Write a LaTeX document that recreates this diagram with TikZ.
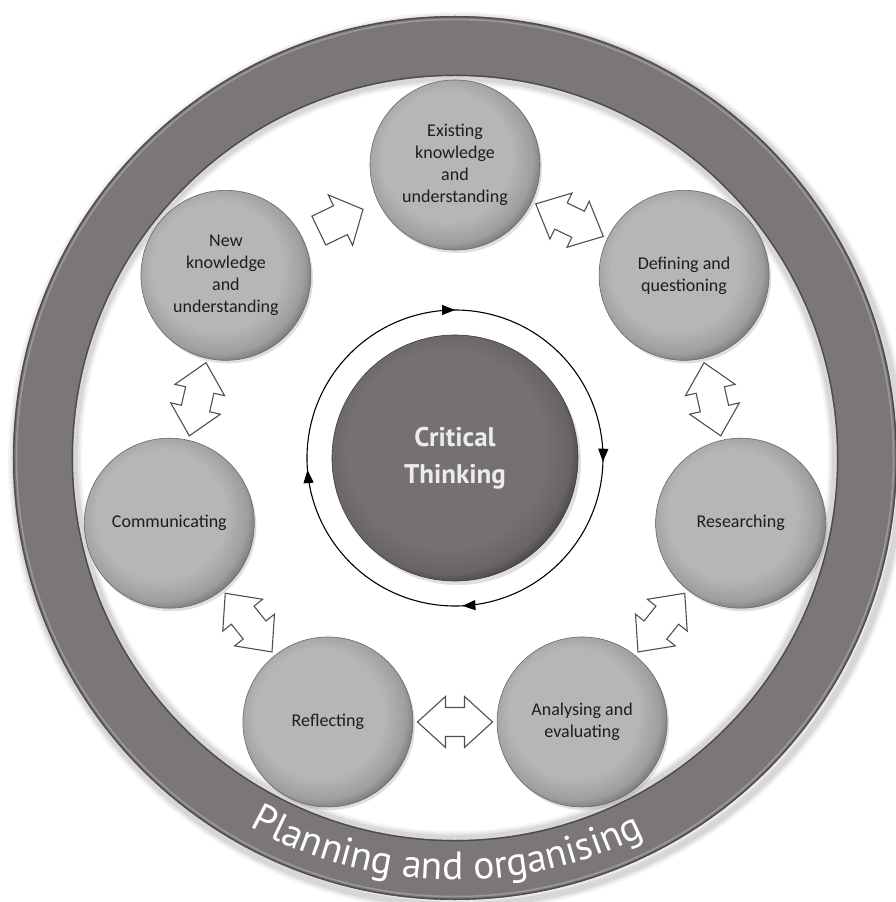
\documentclass[tikz,border=0pt]{standalone}
\usepackage{fontspec}
\setmainfont{Carlito}
\newfontfamily\gillfont{PT Sans}
\usetikzlibrary{decorations.text,decorations.markings,arrows.meta,calc,shadows}

\definecolor{satA}{RGB}{184,181,181}
\definecolor{satB}{RGB}{160,157,157}
\definecolor{satC}{RGB}{105,102,102}
\definecolor{ctA}{RGB}{118,113,113}
\definecolor{ctB}{RGB}{105,100,100}
\definecolor{ctC}{RGB}{62,58,58}
\definecolor{ringcol}{RGB}{124,119,119}
\definecolor{ringedge}{RGB}{80,76,76}
\definecolor{labelcol}{RGB}{30,28,28}
\definecolor{arrline}{RGB}{80,80,80}
\definecolor{cttext}{RGB}{236,236,236}

\pgfdeclareradialshading{satshade}{\pgfpoint{-4bp}{4bp}}{color(0bp)=(satA); color(19bp)=(satA); color(25bp)=(satB); color(29bp)=(satC); color(50bp)=(satC)}
\pgfdeclareradialshading{ctshade}{\pgfpoint{-3bp}{3bp}}{color(0bp)=(ctA); color(20bp)=(ctA); color(25bp)=(ctB); color(28bp)=(ctC); color(50bp)=(ctC)}

\tikzset{
  sat/.style={circle, minimum size=170pt, inner sep=0pt, shading=satshade, draw=satC, line width=0.6pt,
    drop shadow={shadow xshift=2pt, shadow yshift=-3pt, opacity=0.25},
    font=\fontsize{18}{22}\selectfont, text=labelcol, align=center},
  ctnode/.style={circle, minimum size=246pt, inner sep=0pt, shading=ctshade, draw=ctC, line width=0.6pt,
    drop shadow={shadow xshift=3pt, shadow yshift=-4pt, opacity=0.25},
    font=\gillfont\bfseries\fontsize{27}{37}\selectfont, text=cttext, align=center},
  arrstyle/.style={draw=arrline, fill=white, line width=1.1pt, line join=miter},
  dblarr/.pic={\draw[arrstyle] (-37.5,0) -- (-9.5,-25.5) -- (-9.5,-14.5) -- (9.5,-14.5) -- (9.5,-25.5)
     -- (37.5,0) -- (9.5,25.5) -- (9.5,14.5) -- (-9.5,14.5) -- (-9.5,25.5) -- cycle;},
  sglarr/.pic={\draw[arrstyle] (-24,-16) -- (0,-16) -- (0,-28) -- (25,0) -- (0,28) -- (0,16) -- (-24,16) -- cycle;}
}

\begin{document}
\begin{tikzpicture}[x=1pt,y=1pt]
\useasboundingbox (-455,-444) rectangle (440,458);
\fill[white] (-455,-444) rectangle (440,458);

% ring shadow
\foreach \w/\o in {14/0.04, 10/0.05, 6/0.07} {
  \draw[black, opacity=\o, line width=\w pt] (3,-4) circle (443);
  \draw[black, opacity=\o, line width=\w pt] (0,0) circle (380);
}
% outer ring
\fill[ringcol, even odd rule] (0,0) circle (442) (0,0) circle (382);
\draw[ringedge, line width=1.4pt] (0,0) circle (441.3);
\draw[ringedge, line width=1.4pt] (0,0) circle (382.7);
\draw[white, opacity=0.25, line width=1.5pt] (0,0) circle (438.5);

% ring text
\path[decorate, decoration={text along path, text align=center, text color=white,
   text={|\gillfont\fontsize{39.5}{39.5}\selectfont|Planning and organising}}]
   (-136.2:422) arc[start angle=-136.2, end angle=-46.2, radius=422];

% central node
\node[ctnode] (ct) at (0,0) {Critical\\Thinking};

% cycle arrows around centre
\draw[black, line width=1.1pt, postaction={decorate},
  decoration={markings,
    mark=at position 0.129 with {\arrow{Triangle[length=13pt,width=10pt]}},
    mark=at position 0.367 with {\arrow{Triangle[length=13pt,width=10pt]}},
    mark=at position 0.612 with {\arrow{Triangle[length=13pt,width=10pt]}},
    mark=at position 0.875 with {\arrow{Triangle[length=13pt,width=10pt]}}}]
  ($(ct.center)+(45:148)$) arc[start angle=405, end angle=45, radius=148];

% satellite nodes
\node[sat] (ek) at (90:293)      {Existing\\knowledge\\and\\understanding};
\node[sat] (dq) at (38.57:293)   {Defining and\\questioning};
\node[sat] (rs) at (-12.86:293)  {Researching};
\node[sat] (ae) at (-64.29:293)  {Analysing and\\evaluating};
\node[sat] (rf) at (-115.71:293) {Reflecting};
\node[sat] (cm) at (-167.14:293) {Communicating};
\node[sat] (nk) at (141.43:293)  {New\\knowledge\\and\\understanding};

% block arrows between nodes
\pic[rotate=25.71]  at ($(nk)!0.5!(ek)$) {sglarr};
\pic[rotate=-25.71] at ($(ek)!0.5!(dq)$) {dblarr};
\pic[rotate=-77.14] at ($(dq)!0.5!(rs)$) {dblarr};
\pic[rotate=-128.57] at ($(rs)!0.5!(ae)$) {dblarr};
\pic[rotate=0]      at ($(ae)!0.5!(rf)$) {dblarr};
\pic[rotate=128.57] at ($(rf)!0.5!(cm)$) {dblarr};
\pic[rotate=77.14]  at ($(cm)!0.5!(nk)$) {dblarr};
\end{tikzpicture}
\end{document}
